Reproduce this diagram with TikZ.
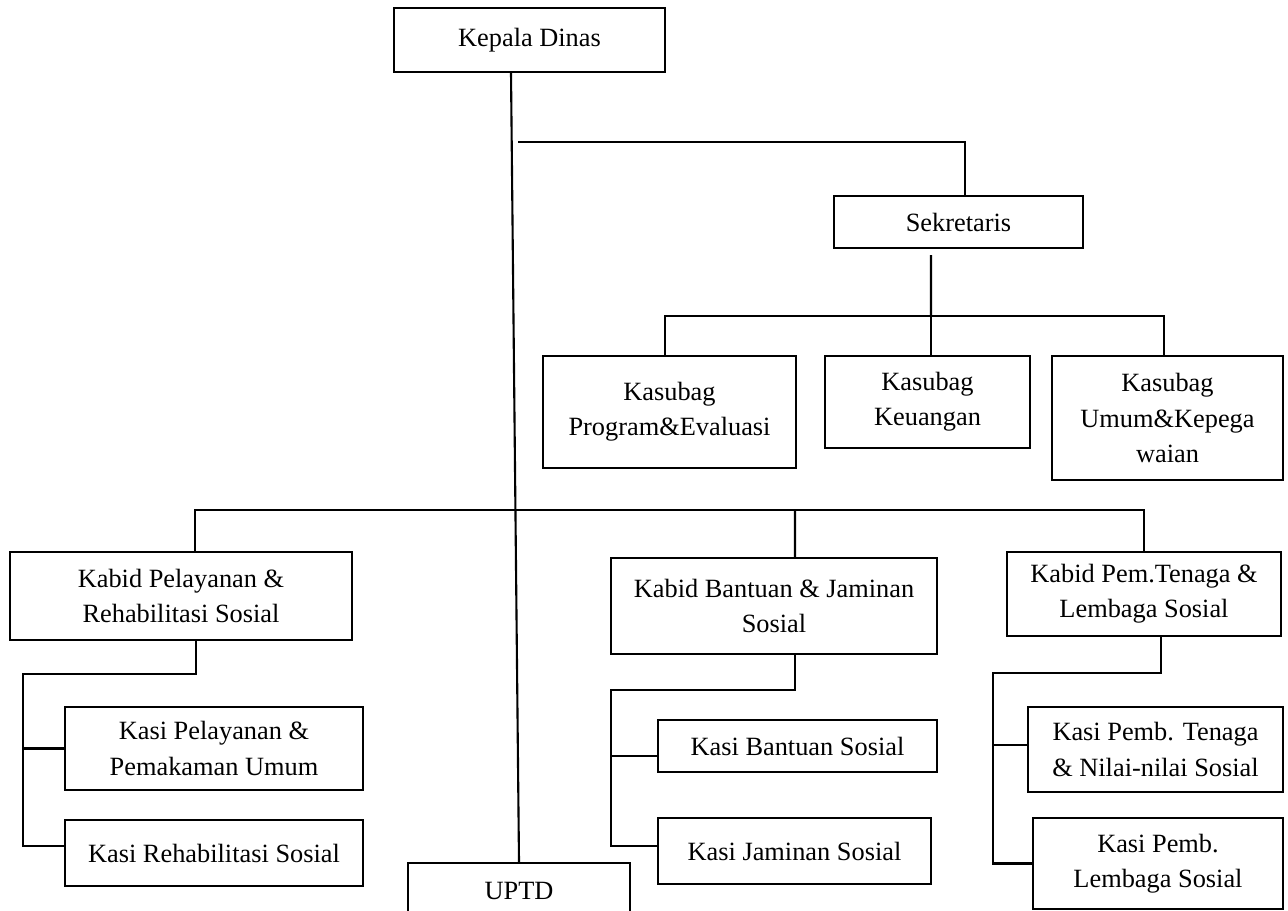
\documentclass[tikz,border=0pt]{standalone}
\usepackage{fontspec}
\setmainfont{Liberation Serif}

\tikzset{
	box/.style={draw, rectangle, line width=1.2pt, align=center, inner sep=2pt, font=\fontsize{15}{20}\selectfont},
	link/.style={line width=1.2pt}
}

\begin{document}
\begin{tikzpicture}[x=0.02cm, y=-0.02cm]
		\useasboundingbox (0,0) rectangle (1288,911);

		\node[box, minimum width=5.42cm, minimum height=1.28cm] (kadis) at (529.5,40)    {Kepala Dinas};
		\node[box, minimum width=4.98cm, minimum height=1.04cm] (sekre) at (958.5,222)   {Sekretaris};
		\node[box, minimum width=5.06cm, minimum height=2.24cm] (kprog) at (669.5,412)   {Kasubag\\Program\&Evaluasi};
		\node[box, minimum width=4.10cm, minimum height=1.84cm] (kkeu)  at (927.5,402)   {Kasubag\\Keuangan};
		\node[box, minimum width=4.62cm, minimum height=2.48cm] (kumum) at (1167.5,418)  {Kasubag\\Umum\&Kepega\\waian};
		\node[box, minimum width=6.84cm, minimum height=1.76cm] (kbpel) at (181,596)     {Kabid Pelayanan \&\\Rehabilitasi Sosial};
		\node[box, minimum width=6.52cm, minimum height=1.92cm] (kbban) at (774,606)     {Kabid Bantuan \& Jaminan\\Sosial};
		\node[box, minimum width=5.48cm, minimum height=1.68cm] (kbpem) at (1144,594)    {Kabid Pem.Tenaga \&\\Lembaga Sosial};
		\node[box, minimum width=5.96cm, minimum height=1.66cm] (kspel) at (214,748.5)   {Kasi Pelayanan \&\\Pemakaman Umum};
		\node[box, minimum width=5.96cm, minimum height=1.32cm] (ksreh) at (214,853)     {Kasi Rehabilitasi Sosial};
		\node[box, minimum width=5.58cm, minimum height=1.04cm] (ksban) at (797.5,746)   {Kasi Bantuan Sosial};
		\node[box, minimum width=5.46cm, minimum height=1.32cm] (ksjam) at (794.5,851)   {Kasi Jaminan Sosial};
		\node[box, minimum width=5.10cm, minimum height=1.70cm] (kspt)  at (1155.5,749.5) {Kasi Pemb. Tenaga\\\& Nilai-nilai Sosial};
		\node[box, minimum width=5.00cm, minimum height=1.82cm] (kspl)  at (1158,863.5)  {Kasi Pemb.\\Lembaga Sosial};
		\node[box, minimum width=4.44cm, minimum height=1.12cm] (uptd)  at (519,891)     {UPTD};

		\coordinate (sbr)  at (518,142);
		\coordinate (sbus) at (931,316);
		\coordinate (kbus) at (795,510);
		\coordinate (lsp)  at (23,674);
		\coordinate (msp)  at (611,690);
		\coordinate (rsp)  at (993,673);

		\draw[link] ([xshift=-0.37cm]kadis.south) -- (uptd.north);
		\draw[link] ([xshift=0.13cm]sekre.north) |- (sbr);
		\draw[link] ([xshift=-0.55cm,yshift=-0.12cm]sekre.south) -- (sbus);
		\draw[link] ([xshift=-0.09cm]kprog.north) |- (sbus) -| ([xshift=-0.07cm]kumum.north);
		\draw[link] (sbus) -- (sbus |- kkeu.north);

		\draw[link] ([xshift=0.28cm]kbpel.north) |- (kbus) -| (kbpem.north);
		\draw[link] (kbus) -- ([xshift=0.42cm]kbban.north);

		\draw[link] ([xshift=0.3cm]kbpel.south) |- (lsp) |- ([yshift=0.14cm]ksreh.west);
		\draw[link] (kspel.west) -| (lsp);
		\draw[link] ([xshift=0.42cm]kbban.south) |- (msp) |- ([yshift=0.1cm]ksjam.west);
		\draw[link] ([yshift=-0.2cm]ksban.west) -| (msp);
		\draw[link] ([xshift=0.34cm]kbpem.south) |- (rsp) |- (kspl.west);
		\draw[link] ([yshift=0.09cm]kspt.west) -| (rsp);
	\end{tikzpicture}
\end{document}
